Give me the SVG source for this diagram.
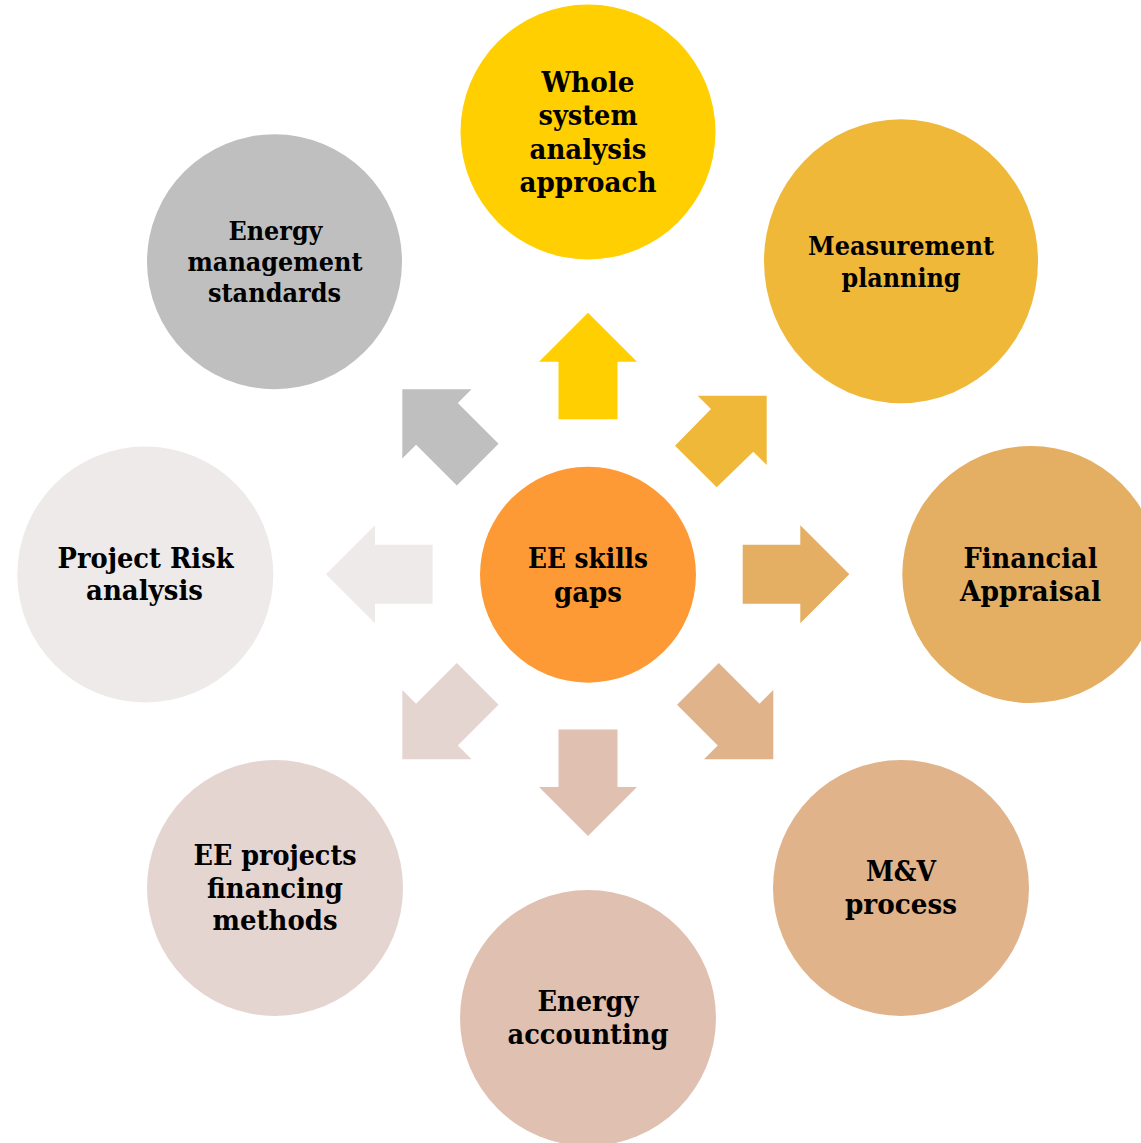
<svg xmlns="http://www.w3.org/2000/svg" xmlns:xlink="http://www.w3.org/1999/xlink" width="1141" height="1143" viewBox="0 0 1141 1143">
  <defs>
    <style>
      .lbl { font-family: "DejaVu Serif", "Liberation Serif", serif; font-weight: bold; fill: #000; text-anchor: middle; }
    </style>
    <!-- block arrow pointing up, centred on the origin -->
    <path id="arrow" d="M0,-53.3 L49,-4.3 L29.5,-4.3 L29.5,53.3 L-29.5,53.3 L-29.5,-4.3 L-49,-4.3 Z"/>
  </defs>
  <rect width="1141" height="1143" fill="#fff"/>

  <g id="connectors">
    <use xlink:href="#arrow" href="#arrow" fill="#FFCF01" transform="translate(588,366)"/>
    <path fill="#EFB839" d="M766.7,395.7 L766.7,465 L753.3,451.7 L716.7,487.3 L675,445.7 L711,409 L697.7,395.7 Z"/>
    <use xlink:href="#arrow" href="#arrow" fill="#E4AE63" transform="translate(796,574.3) rotate(90)"/>
    <use xlink:href="#arrow" href="#arrow" fill="#E0B38B" transform="translate(735.6,721.6) rotate(135)"/>
    <use xlink:href="#arrow" href="#arrow" fill="#DFC0B1" transform="translate(588,782.7) rotate(180)"/>
    <use xlink:href="#arrow" href="#arrow" fill="#E5D5D1" transform="translate(440,721.6) rotate(-135)"/>
    <use xlink:href="#arrow" href="#arrow" fill="#EEEAE9" transform="translate(379.3,574.3) rotate(-90)"/>
    <use xlink:href="#arrow" href="#arrow" fill="#BFBFBF" transform="translate(440,427) rotate(-45)"/>
  </g>

  <g id="node-center">
    <circle cx="588" cy="574.7" r="108" fill="#FE9A35"/>
    <text class="lbl" font-size="27.5" x="588" y="568.3" textLength="120" lengthAdjust="spacingAndGlyphs">EE skills</text>
    <text class="lbl" font-size="27.5" x="588" y="601.7" textLength="68" lengthAdjust="spacingAndGlyphs">gaps</text>
  </g>

  <g id="node-whole-system">
    <circle cx="588" cy="132" r="127.5" fill="#FFCF01"/>
    <text class="lbl" font-size="27.5" x="588" y="91.7" textLength="93" lengthAdjust="spacingAndGlyphs">Whole</text>
    <text class="lbl" font-size="27.5" x="588" y="125.2" textLength="99" lengthAdjust="spacingAndGlyphs">system</text>
    <text class="lbl" font-size="27.5" x="588" y="158.7" textLength="117" lengthAdjust="spacingAndGlyphs">analysis</text>
    <text class="lbl" font-size="27.5" x="588" y="192.2" textLength="137" lengthAdjust="spacingAndGlyphs">approach</text>
  </g>

  <g id="node-measurement">
    <ellipse cx="901" cy="261.3" rx="137" ry="142" fill="#EFB839"/>
    <text class="lbl" font-size="26.5" x="901" y="255" textLength="186" lengthAdjust="spacingAndGlyphs">Measurement</text>
    <text class="lbl" font-size="26.5" x="901" y="287" textLength="119" lengthAdjust="spacingAndGlyphs">planning</text>
  </g>

  <g id="node-financial">
    <circle cx="1030.8" cy="574.5" r="128.5" fill="#E4AE63"/>
    <text class="lbl" font-size="27" x="1030.5" y="568.3" textLength="134" lengthAdjust="spacingAndGlyphs">Financial</text>
    <text class="lbl" font-size="27" x="1030.5" y="600.7" textLength="141" lengthAdjust="spacingAndGlyphs">Appraisal</text>
  </g>

  <g id="node-mv">
    <circle cx="901" cy="888" r="128" fill="#E0B38B"/>
    <text class="lbl" font-size="27" x="901" y="881" textLength="70" lengthAdjust="spacingAndGlyphs">M&amp;V</text>
    <text class="lbl" font-size="27" x="901" y="914" textLength="112" lengthAdjust="spacingAndGlyphs">process</text>
  </g>

  <g id="node-accounting">
    <circle cx="588" cy="1018" r="128" fill="#DFC0B1"/>
    <text class="lbl" font-size="27" x="588" y="1011" textLength="101" lengthAdjust="spacingAndGlyphs">Energy</text>
    <text class="lbl" font-size="27" x="588" y="1044" textLength="161" lengthAdjust="spacingAndGlyphs">accounting</text>
  </g>

  <g id="node-financing">
    <circle cx="275" cy="888" r="128" fill="#E5D5D1"/>
    <text class="lbl" font-size="27" x="275" y="865" textLength="163" lengthAdjust="spacingAndGlyphs">EE projects</text>
    <text class="lbl" font-size="27" x="275" y="897.7" textLength="136" lengthAdjust="spacingAndGlyphs">financing</text>
    <text class="lbl" font-size="27" x="275" y="930" textLength="125" lengthAdjust="spacingAndGlyphs">methods</text>
  </g>

  <g id="node-risk">
    <circle cx="145.3" cy="574.5" r="128" fill="#EEEAE9"/>
    <text class="lbl" font-size="27" x="145.5" y="568.3" textLength="176" lengthAdjust="spacingAndGlyphs">Project Risk</text>
    <text class="lbl" font-size="27" x="144.5" y="600" textLength="117" lengthAdjust="spacingAndGlyphs">analysis</text>
  </g>

  <g id="node-standards">
    <circle cx="274.5" cy="261.7" r="127.5" fill="#BFBFBF"/>
    <text class="lbl" font-size="25.5" x="275.5" y="240" textLength="94" lengthAdjust="spacingAndGlyphs">Energy</text>
    <text class="lbl" font-size="25.5" x="275" y="271" textLength="175" lengthAdjust="spacingAndGlyphs">management</text>
    <text class="lbl" font-size="25.5" x="274.5" y="302" textLength="133" lengthAdjust="spacingAndGlyphs">standards</text>
  </g>
</svg>
